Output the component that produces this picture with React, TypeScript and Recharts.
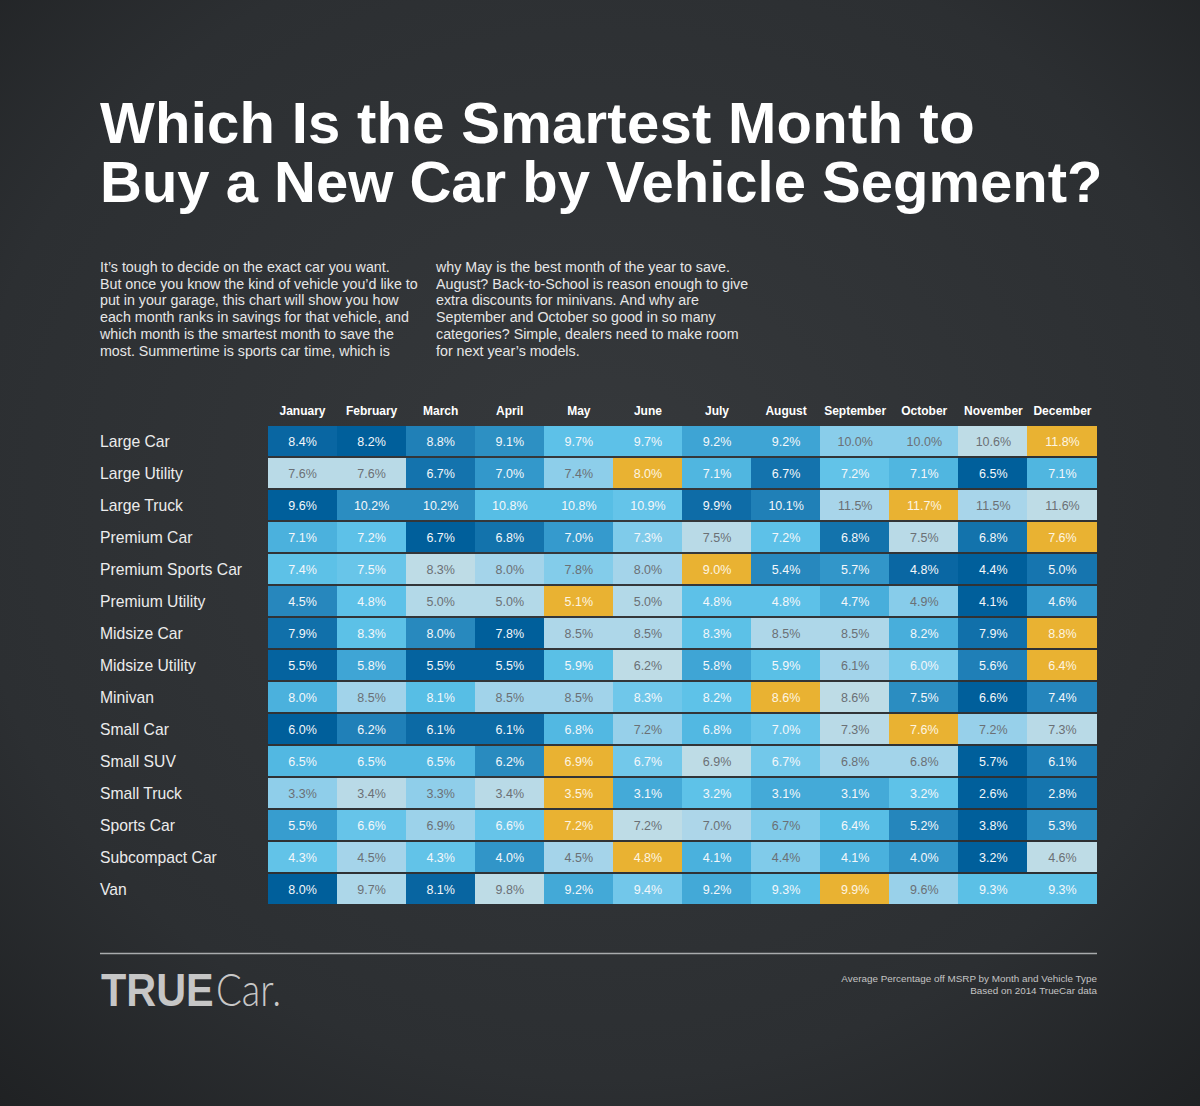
import React from 'react';
import { ScatterChart, Scatter, XAxis, YAxis } from 'recharts';

const MONTHS = ['January', 'February', 'March', 'April', 'May', 'June', 'July', 'August', 'September', 'October', 'November', 'December'];
const VEHICLES = ['Large Car', 'Large Utility', 'Large Truck', 'Premium Car', 'Premium Sports Car', 'Premium Utility', 'Midsize Car', 'Midsize Utility', 'Minivan', 'Small Car', 'Small SUV', 'Small Truck', 'Sports Car', 'Subcompact Car', 'Van'];

const LARGE_CAR = [8.4, 8.2, 8.8, 9.1, 9.7, 9.7, 9.2, 9.2, 10.0, 10.0, 10.6, 11.8];
const LARGE_UTILITY = [7.6, 7.6, 6.7, 7.0, 7.4, 8.0, 7.1, 6.7, 7.2, 7.1, 6.5, 7.1];
const LARGE_TRUCK = [9.6, 10.2, 10.2, 10.8, 10.8, 10.9, 9.9, 10.1, 11.5, 11.7, 11.5, 11.6];
const PREMIUM_CAR = [7.1, 7.2, 6.7, 6.8, 7.0, 7.3, 7.5, 7.2, 6.8, 7.5, 6.8, 7.6];
const PREMIUM_SPORTS_CAR = [7.4, 7.5, 8.3, 8.0, 7.8, 8.0, 9.0, 5.4, 5.7, 4.8, 4.4, 5.0];
const PREMIUM_UTILITY = [4.5, 4.8, 5.0, 5.0, 5.1, 5.0, 4.8, 4.8, 4.7, 4.9, 4.1, 4.6];
const MIDSIZE_CAR = [7.9, 8.3, 8.0, 7.8, 8.5, 8.5, 8.3, 8.5, 8.5, 8.2, 7.9, 8.8];
const MIDSIZE_UTILITY = [5.5, 5.8, 5.5, 5.5, 5.9, 6.2, 5.8, 5.9, 6.1, 6.0, 5.6, 6.4];
const MINIVAN = [8.0, 8.5, 8.1, 8.5, 8.5, 8.3, 8.2, 8.6, 8.6, 7.5, 6.6, 7.4];
const SMALL_CAR = [6.0, 6.2, 6.1, 6.1, 6.8, 7.2, 6.8, 7.0, 7.3, 7.6, 7.2, 7.3];
const SMALL_SUV = [6.5, 6.5, 6.5, 6.2, 6.9, 6.7, 6.9, 6.7, 6.8, 6.8, 5.7, 6.1];
const SMALL_TRUCK = [3.3, 3.4, 3.3, 3.4, 3.5, 3.1, 3.2, 3.1, 3.1, 3.2, 2.6, 2.8];
const SPORTS_CAR = [5.5, 6.6, 6.9, 6.6, 7.2, 7.2, 7.0, 6.7, 6.4, 5.2, 3.8, 5.3];
const SUBCOMPACT_CAR = [4.3, 4.5, 4.3, 4.0, 4.5, 4.8, 4.1, 4.4, 4.1, 4.0, 3.2, 4.6];
const VAN = [8.0, 9.7, 8.1, 9.8, 9.2, 9.4, 9.2, 9.3, 9.9, 9.6, 9.3, 9.3];

const ROWS = [LARGE_CAR, LARGE_UTILITY, LARGE_TRUCK, PREMIUM_CAR, PREMIUM_SPORTS_CAR, PREMIUM_UTILITY, MIDSIZE_CAR, MIDSIZE_UTILITY, MINIVAN, SMALL_CAR, SMALL_SUV, SMALL_TRUCK, SPORTS_CAR, SUBCOMPACT_CAR, VAN];

const TITLE_LINES = ['Which Is the Smartest Month to', 'Buy a New Car by Vehicle Segment?'];
const INTRO_LEFT = [
  'It\u2019s tough to decide on the exact car you want.',
  'But once you know the kind of vehicle you\u2019d like to',
  'put in your garage, this chart will show you how',
  'each month ranks in savings for that vehicle, and',
  'which month is the smartest month to save the',
  'most. Summertime is sports car time, which is',
];
const INTRO_RIGHT = [
  'why May is the best month of the year to save.',
  'August? Back-to-School is reason enough to give',
  'extra discounts for minivans. And why are',
  'September and October so good in so many',
  'categories? Simple, dealers need to make room',
  'for next year\u2019s models.',
];
const FOOTNOTE = ['Average Percentage off MSRP by Month and Vehicle Type', 'Based on 2014 TrueCar data'];

const W = 1200;
const H = 1106;
const MARGIN = { top: 396, right: 103, bottom: 200, left: 100 };
const X_AXIS_H = 30;
const Y_AXIS_W = 168;
const PLOT_W = W - MARGIN.left - Y_AXIS_W - MARGIN.right;
const PLOT_H = H - MARGIN.top - X_AXIS_H - MARGIN.bottom;
const CELL_W = PLOT_W / MONTHS.length;
const CELL_H = PLOT_H / VEHICLES.length;

const FONT = '"Liberation Sans", Arial, Helvetica, sans-serif';
const ORANGE = '#e9b232';
const STOPS: [number, string][] = [
  [0.0, '#005f9b'],
  [0.1, '#0a67a3'],
  [0.18, '#1676af'],
  [0.25, '#2585bc'],
  [0.32, '#2a8cc0'],
  [0.4, '#379dcf'],
  [0.47, '#45abd9'],
  [0.55, '#55bce4'],
  [0.65, '#5ec2e8'],
  [0.75, '#74c8ea'],
  [0.82, '#92cfea'],
  [0.9, '#a8d5ea'],
  [1.0, '#bedce6'],
];

function hexToRgb(h: string) {
  const n = parseInt(h.slice(1), 16);
  return [(n >> 16) & 255, (n >> 8) & 255, n & 255];
}
function rampColor(t: number) {
  const s = Math.max(0, Math.min(1, t));
  for (let i = 1; i < STOPS.length; i++) {
    if (s <= STOPS[i][0]) {
      const [t0, c0] = STOPS[i - 1];
      const [t1, c1] = STOPS[i];
      const f = (s - t0) / (t1 - t0);
      const a = hexToRgb(c0);
      const b = hexToRgb(c1);
      const m = a.map((v, k) => Math.round(v + (b[k] - v) * f));
      return `rgb(${m[0]},${m[1]},${m[2]})`;
    }
  }
  return STOPS[STOPS.length - 1][1];
}

type Cell = { mi: number; ri: number; value: number; fill: string; text: string };

function buildCells(): Cell[] {
  const cells: Cell[] = [];
  ROWS.forEach((row, ri) => {
    const maxIdx = row.indexOf(Math.max(...row));
    const rest = row.filter((_, i) => i !== maxIdx);
    const min = Math.min(...rest);
    const max2 = Math.max(...rest);
    row.forEach((v, mi) => {
      if (mi === maxIdx) {
        cells.push({ mi, ri, value: v, fill: ORANGE, text: '#fdf5e2' });
        return;
      }
      const greater = rest.filter((x) => x > v).length;
      const equal = rest.filter((x) => x === v).length;
      const avgRank = greater + (equal + 1) / 2;
      const r = (rest.length - avgRank) / (rest.length - 1);
      const vn = max2 > min ? (v - min) / (max2 - min) : 0.5;
      const s = 0.5 * r + 0.5 * vn;
      cells.push({ mi, ri, value: v, fill: rampColor(s), text: s >= 0.775 ? '#6b7075' : '#f4f7fa' });
    });
  });
  return cells;
}

const CELLS = buildCells();

const CellShape = (props: any) => {
  const { cx, cy, payload } = props;
  if (cx == null || cy == null) return null;
  const x0 = Math.floor(cx - CELL_W / 2);
  const y0 = Math.round(cy - CELL_H / 2);
  const last = payload.mi === MONTHS.length - 1;
  return (
    <g>
      <rect x={x0} y={y0} width={Math.ceil(CELL_W) + (last ? 0 : 1)} height={CELL_H - 2} fill={payload.fill} />
      <text x={cx} y={cy + 3.5} textAnchor="middle" fontSize={12.5} fontFamily={FONT} fill={payload.text}>
        {payload.value.toFixed(1)}%
      </text>
    </g>
  );
};

const MonthTick = (props: any) => {
  const { x, payload } = props;
  return (
    <text x={x} y={415} textAnchor="middle" fontSize={12} fontWeight={700} fontFamily={FONT} fill="#ffffff">
      {MONTHS[payload.value]}
    </text>
  );
};

const VehicleTick = (props: any) => {
  const { y, payload } = props;
  return (
    <text x={100} y={y + 4.5} textAnchor="start" fontSize={15.7} fontFamily={FONT} fill="#ececec">
      {VEHICLES[payload.value]}
    </text>
  );
};

export default function App() {
  return (
    <div style={{ position: 'absolute', left: 0, top: 0, width: W, height: H, overflow: 'hidden' }}>
      <svg width={W} height={H} style={{ position: 'absolute', left: 0, top: 0 }}>
        <defs>
          <radialGradient id="bg" cx="50%" cy="45%" r="75%">
            <stop offset="0%" stopColor="#36393c" />
            <stop offset="70%" stopColor="#2c2f32" />
            <stop offset="100%" stopColor="#1f2123" />
          </radialGradient>
        </defs>
        <rect x={0} y={0} width={W} height={H} fill="url(#bg)" />
        {TITLE_LINES.map((t, i) => (
          <text key={t} x={100} y={143 + i * 59} fontSize={58} fontWeight={700} fontFamily={FONT} fill="#ffffff" letterSpacing={i === 0 ? 0.27 : 0}>
            {t}
          </text>
        ))}
        {INTRO_LEFT.map((t, i) => (
          <text key={'l' + i} x={100} y={272 + i * 16.7} fontSize={14.25} fontFamily={FONT} fill="#e6e6e6">
            {t}
          </text>
        ))}
        {INTRO_RIGHT.map((t, i) => (
          <text key={'r' + i} x={436} y={272 + i * 16.7} fontSize={14.25} fontFamily={FONT} fill="#e6e6e6">
            {t}
          </text>
        ))}
        <line x1={100} x2={1097} y1={953.5} y2={953.5} stroke="#a9abad" strokeWidth={1.5} />
        <g transform="translate(101,1006) scale(0.9,1)">
          <text x={0} y={0} fontSize={46} fontWeight={700} fontFamily={FONT} fill="#c6c6c6">
            TRUE
          </text>
        </g>
        <g transform="translate(216,1006) scale(0.83,1)">
          <text x={0} y={0} fontSize={46} fontWeight={300} fontFamily="Lato, 'Open Sans', sans-serif" fill="#c8c8c8">
            Car.
          </text>
        </g>
        {FOOTNOTE.map((t, i) => (
          <text key={t} x={1097} y={982 + i * 12} textAnchor="end" fontSize={9.9} fontFamily={FONT} fill="#c4c4c4">
            {t}
          </text>
        ))}
      </svg>
      <div style={{ position: 'absolute', left: 0, top: 0 }}>
        <ScatterChart width={W} height={H} margin={MARGIN}>
          <XAxis
            type="number"
            dataKey="mi"
            orientation="top"
            domain={[-0.5, MONTHS.length - 0.5]}
            ticks={MONTHS.map((_, i) => i)}
            interval={0}
            axisLine={false}
            tickLine={false}
            height={X_AXIS_H}
            tick={MonthTick}
          />
          <YAxis
            type="number"
            dataKey="ri"
            domain={[-0.5, VEHICLES.length - 0.5]}
            reversed
            ticks={VEHICLES.map((_, i) => i)}
            interval={0}
            axisLine={false}
            tickLine={false}
            width={Y_AXIS_W}
            tick={VehicleTick}
          />
          <Scatter data={CELLS} shape={CellShape} isAnimationActive={false} />
        </ScatterChart>
      </div>
    </div>
  );
}
